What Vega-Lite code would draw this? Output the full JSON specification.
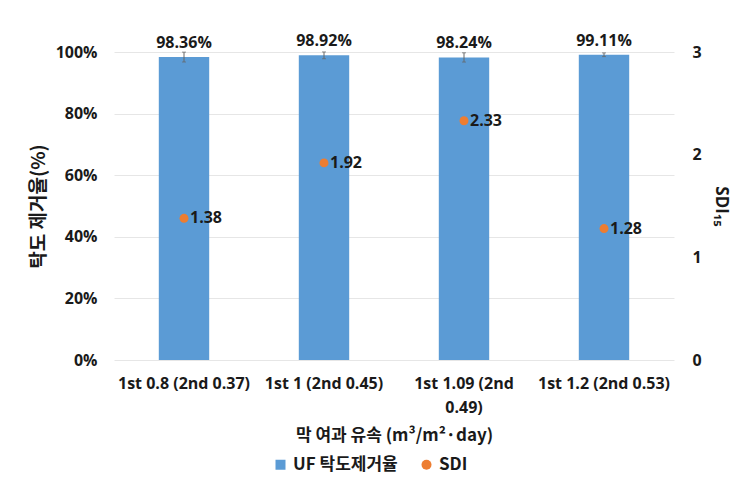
{
  "$schema": "https://vega.github.io/schema/vega-lite/v6.json",
  "width": 560,
  "height": 308,
  "autosize": {"type": "none"},
  "padding": {"left": 114, "top": 52, "right": 62, "bottom": 120},
  "background": "white",
  "config": {
    "view": {"stroke": null},
    "font": "Open Sans, Noto Sans CJK KR",
    "axis": {
      "labelFont": "Open Sans, Noto Sans CJK KR",
      "titleFont": "Noto Sans CJK KR, Open Sans",
      "labelFontWeight": "bold",
      "labelColor": "#1a1a1a",
      "titleColor": "#1a1a1a",
      "labelFontSize": 16,
      "titleFontSize": 19,
      "titleFontWeight": "bold"
    }
  },
  "data": {
    "values": [
      {"flux": "1st 0.8 (2nd 0.37)", "removal": 0.9836, "err": 0.016, "sdi": 1.38},
      {"flux": "1st 1 (2nd 0.45)", "removal": 0.9892, "err": 0.011, "sdi": 1.92},
      {"flux": "1st 1.09 (2nd 0.49)", "removal": 0.9824, "err": 0.015, "sdi": 2.33},
      {"flux": "1st 1.2 (2nd 0.53)", "removal": 0.9911, "err": 0.006, "sdi": 1.28}
    ]
  },
  "encoding": {
    "x": {
      "field": "flux",
      "type": "nominal",
      "sort": null,
      "scale": {"paddingInner": 0.64, "paddingOuter": 0.32},
      "axis": {
        "title": "막 여과 유속 (m³/m²·day)",
        "titleFontSize": 17,
        "titlePadding": 12,
        "labelAngle": 0,
        "labelPadding": 15,
        "labelLimit": 200,
        "labelLineHeight": 24,
        "ticks": false,
        "domain": false,
        "labelExpr": "datum.label == '1st 1.09 (2nd 0.49)' ? ['1st 1.09 (2nd', '0.49)'] : datum.label"
      }
    }
  },
  "layer": [
    {
      "layer": [
        {
          "mark": {"type": "bar"},
          "encoding": {
            "y": {
              "field": "removal",
              "type": "quantitative",
              "title": "탁도 제거율(%)",
              "scale": {"domain": [0, 1]},
              "axis": {
                "format": ".0%",
                "values": [0, 0.2, 0.4, 0.6, 0.8, 1],
                "ticks": false,
                "domain": false,
                "labelPadding": 17,
                "titlePadding": 7,
                "gridColor": "#e6e6e6"
              }
            },
            "color": {
              "datum": "UF 탁도제거율",
              "type": "nominal",
              "scale": {"domain": ["UF 탁도제거율", "SDI"], "range": ["#5b9bd5", "#ed7d31"]},
              "legend": {
                "title": null,
                "orient": "none",
                "legendX": 158,
                "legendY": 404,
                "direction": "horizontal",
                "labelFont": "Noto Sans CJK KR, Open Sans",
                "labelFontSize": 17,
                "labelFontWeight": "bold",
                "labelColor": "#1a1a1a",
                "symbolSize": 100,
                "columnPadding": 20
              }
            }
          }
        },
        {
          "mark": {"type": "errorbar", "color": "#666666", "thickness": 1, "ticks": {"size": 4, "color": "#666666"}},
          "encoding": {
            "y": {"field": "removal", "type": "quantitative", "title": "탁도 제거율(%)"},
            "yError": {"field": "err"}
          }
        },
        {
          "mark": {"type": "text", "dy": -14, "fontSize": 16, "fontWeight": "bold", "color": "#1a1a1a"},
          "encoding": {
            "y": {"field": "removal", "type": "quantitative", "title": "탁도 제거율(%)"},
            "text": {"field": "removal", "format": ".2%"}
          }
        }
      ]
    },
    {
      "layer": [
        {
          "mark": {"type": "point", "filled": true, "size": 80, "opacity": 1},
          "encoding": {
            "y": {
              "field": "sdi",
              "type": "quantitative",
              "title": "SDI₁₅",
              "scale": {"domain": [0, 3]},
              "axis": {
                "orient": "right",
                "titleAngle": 90,
                "titleFont": "Open Sans",
                "titleFontSize": 17,
                "format": "d",
                "values": [0, 1, 2, 3],
                "ticks": false,
                "domain": false,
                "grid": false,
                "labelPadding": 18,
                "titlePadding": 10
              }
            },
            "color": {"datum": "SDI", "type": "nominal"},
            "shape": {
              "datum": "SDI",
              "type": "nominal",
              "scale": {"domain": ["UF 탁도제거율", "SDI"], "range": ["square", "circle"]}
            }
          }
        },
        {
          "mark": {"type": "text", "align": "left", "dx": 6, "fontSize": 16, "fontWeight": "bold", "color": "#1a1a1a"},
          "encoding": {
            "y": {"field": "sdi", "type": "quantitative", "title": "SDI₁₅"},
            "text": {"field": "sdi", "format": ".2f"}
          }
        }
      ]
    }
  ],
  "resolve": {"scale": {"y": "independent"}}
}
